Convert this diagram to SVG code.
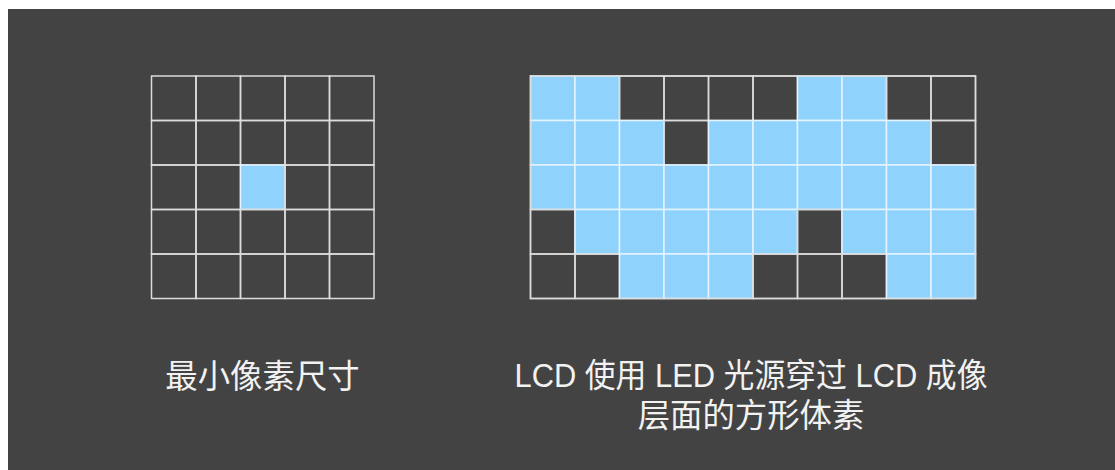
<svg xmlns="http://www.w3.org/2000/svg" width="1115" height="470" viewBox="0 0 1115 470">
<style>
.bg{fill:#434343}
.c{fill:none;stroke:#dcdcdc;stroke-width:1.5}
.b{fill:#8fd3fd;stroke:#e6f4ff;stroke-width:1.5}
.t{fill:#f2f2f2;font-family:"Liberation Sans","Noto Sans CJK SC",sans-serif;font-size:32.4px;text-anchor:middle}
</style>
<defs>
<rect id="cell" class="c" width="44.5" height="44.5"/>
<rect id="blue" class="b" width="44.5" height="44.5"/>
</defs>
<rect width="1115" height="470" fill="#ffffff"/>
<rect class="bg" x="8" y="9" width="1107" height="461"/>
<g id="grid-min">
<use href="#cell" x="151.5" y="76"/><use href="#cell" x="196" y="76"/><use href="#cell" x="240.5" y="76"/><use href="#cell" x="285" y="76"/><use href="#cell" x="329.5" y="76"/>
<use href="#cell" x="151.5" y="120.5"/><use href="#cell" x="196" y="120.5"/><use href="#cell" x="240.5" y="120.5"/><use href="#cell" x="285" y="120.5"/><use href="#cell" x="329.5" y="120.5"/>
<use href="#cell" x="151.5" y="165"/><use href="#cell" x="196" y="165"/><use href="#blue" x="240.5" y="165"/><use href="#cell" x="285" y="165"/><use href="#cell" x="329.5" y="165"/>
<use href="#cell" x="151.5" y="209.5"/><use href="#cell" x="196" y="209.5"/><use href="#cell" x="240.5" y="209.5"/><use href="#cell" x="285" y="209.5"/><use href="#cell" x="329.5" y="209.5"/>
<use href="#cell" x="151.5" y="254"/><use href="#cell" x="196" y="254"/><use href="#cell" x="240.5" y="254"/><use href="#cell" x="285" y="254"/><use href="#cell" x="329.5" y="254"/>
</g>
<g id="grid-lcd">
<use href="#blue" x="530.5" y="76"/><use href="#blue" x="575" y="76"/><use href="#cell" x="619.5" y="76"/><use href="#cell" x="664" y="76"/><use href="#cell" x="708.5" y="76"/><use href="#cell" x="753" y="76"/><use href="#blue" x="797.5" y="76"/><use href="#blue" x="842" y="76"/><use href="#cell" x="886.5" y="76"/><use href="#cell" x="931" y="76"/>
<use href="#blue" x="530.5" y="120.5"/><use href="#blue" x="575" y="120.5"/><use href="#blue" x="619.5" y="120.5"/><use href="#cell" x="664" y="120.5"/><use href="#blue" x="708.5" y="120.5"/><use href="#blue" x="753" y="120.5"/><use href="#blue" x="797.5" y="120.5"/><use href="#blue" x="842" y="120.5"/><use href="#blue" x="886.5" y="120.5"/><use href="#cell" x="931" y="120.5"/>
<use href="#blue" x="530.5" y="165"/><use href="#blue" x="575" y="165"/><use href="#blue" x="619.5" y="165"/><use href="#blue" x="664" y="165"/><use href="#blue" x="708.5" y="165"/><use href="#blue" x="753" y="165"/><use href="#blue" x="797.5" y="165"/><use href="#blue" x="842" y="165"/><use href="#blue" x="886.5" y="165"/><use href="#blue" x="931" y="165"/>
<use href="#cell" x="530.5" y="209.5"/><use href="#blue" x="575" y="209.5"/><use href="#blue" x="619.5" y="209.5"/><use href="#blue" x="664" y="209.5"/><use href="#blue" x="708.5" y="209.5"/><use href="#blue" x="753" y="209.5"/><use href="#cell" x="797.5" y="209.5"/><use href="#blue" x="842" y="209.5"/><use href="#blue" x="886.5" y="209.5"/><use href="#blue" x="931" y="209.5"/>
<use href="#cell" x="530.5" y="254"/><use href="#cell" x="575" y="254"/><use href="#blue" x="619.5" y="254"/><use href="#blue" x="664" y="254"/><use href="#blue" x="708.5" y="254"/><use href="#cell" x="753" y="254"/><use href="#cell" x="797.5" y="254"/><use href="#cell" x="842" y="254"/><use href="#blue" x="886.5" y="254"/><use href="#blue" x="931" y="254"/>
<rect class="c" x="530.5" y="76" width="445" height="222.5"/>
</g>
<g id="label-min"><text class="t" x="262.5" y="388">最小像素尺寸</text></g>
<g id="label-lcd"><text class="t" x="751" y="387" textLength="473" lengthAdjust="spacingAndGlyphs">LCD 使用 LED 光源穿过 LCD 成像</text><text class="t" x="751" y="427">层面的方形体素</text></g>
</svg>
